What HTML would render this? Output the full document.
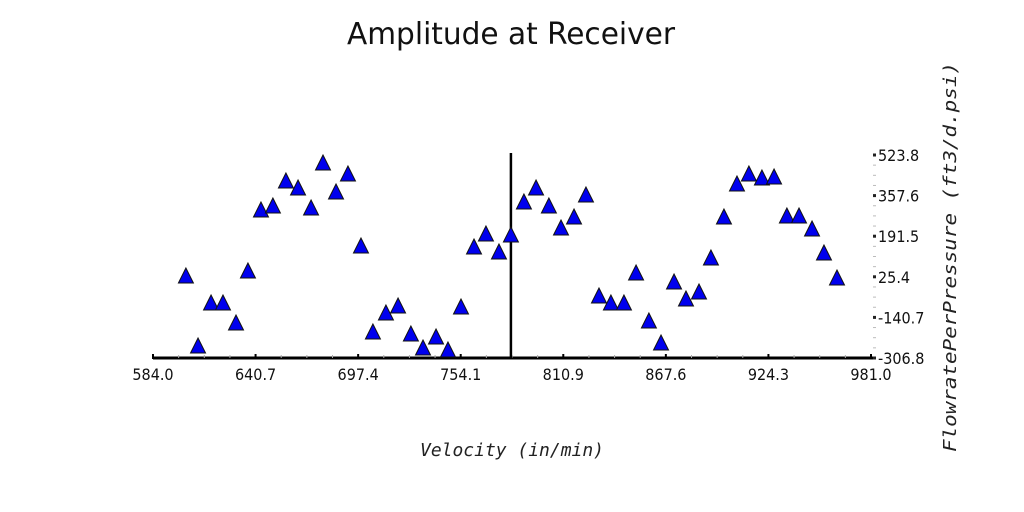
<!DOCTYPE html>
<html><head><meta charset="utf-8"><style>
html,body{margin:0;padding:0;background:#fff;}
svg{display:block;}
.tick{font-family:"DejaVu Sans Condensed","DejaVu Sans","Liberation Sans",sans-serif;font-stretch:condensed;font-size:16px;fill:#111;}
</style></head><body>
<svg id="chart" width="1024" height="512" xmlns="http://www.w3.org/2000/svg">
<text x="511" y="44" text-anchor="middle" textLength="328" lengthAdjust="spacingAndGlyphs" font-family="DejaVu Sans Condensed,DejaVu Sans Mono,sans-serif" font-stretch="condensed" font-size="30" fill="#111">Amplitude at Receiver</text>
<text x="512" y="456" text-anchor="middle" textLength="184" lengthAdjust="spacingAndGlyphs" font-family="DejaVu Sans Mono,Liberation Mono,monospace" font-style="italic" font-size="18" fill="#222">Velocity (in/min)</text>
<text transform="translate(956,257) rotate(-90)" text-anchor="middle" textLength="390" lengthAdjust="spacingAndGlyphs" font-family="DejaVu Sans Mono,Liberation Mono,monospace" font-style="italic" font-size="18" fill="#222">FlowratePerPressure  (ft3/d.psi)</text>
<g id="axes"></g>
<g id="marks"></g>
</svg>
<script>
const xVals=[602.2,608.9,616.1,622.7,629.9,636.5,643.7,650.3,657.5,664.2,671.4,678.0,685.2,691.8,699.0,705.6,712.8,719.5,726.6,733.3,740.5,747.1,754.3,761.5,768.1,775.3,781.9,789.1,795.8,802.9,809.6,816.8,823.4,830.6,837.2,844.4,851.1,858.2,864.9,872.1,878.7,885.9,892.5,899.7,906.9,913.5,920.7,927.4,934.5,941.2,948.4,955.0,962.2];
const yVals=[32.8,-253.6,-77.7,-77.7,-159.5,53.3,302.9,319.2,421.5,392.9,311.0,495.2,376.5,450.1,155.6,-196.3,-118.6,-89.9,-204.5,-261.8,-216.8,-270.0,-94.0,151.5,204.7,131.0,200.6,335.6,392.9,319.2,229.2,274.2,364.2,-49.0,-77.7,-77.7,45.1,-151.3,-241.3,8.3,-61.3,-32.7,106.5,274.2,409.2,450.1,433.8,437.9,278.3,278.3,225.1,126.9,24.6];
const xTickLabels=["584.0","640.7","697.4","754.1","810.9","867.6","924.3","981.0"];
const yTickLabels=["523.8","357.6","191.5","25.4","-140.7","-306.8"];
const xMin=584.0,xMax=981.0,yMin=-306.8,yMax=523.8,vLineX=781.9;
const L=153,R=871,T=155,B=358;
const sx=v=>L+(v-xMin)/(xMax-xMin)*(R-L);
const sy=v=>B-(v-yMin)/(yMax-yMin)*(B-T);
const NS="http://www.w3.org/2000/svg";
const axes=document.getElementById('axes'),marks=document.getElementById('marks');
function mk(tag,attrs,parent){const e=document.createElementNS(NS,tag);for(const k in attrs)e.setAttribute(k,attrs[k]);parent.appendChild(e);return e;}
let ax=mk('line',{x1:L,y1:B,x2:R+2,y2:B,stroke:'#000','stroke-width':3},axes);


const nX=xTickLabels.length;
for(let i=0;i<nX;i++){
  const v=xMin+i*(xMax-xMin)/(nX-1),x=sx(v);
  mk('line',{x1:x,y1:B-4,x2:x,y2:B+1,stroke:'#000','stroke-width':2},axes);
  if(i<nX-1){for(let k=1;k<4;k++){const xm=sx(v+k*(xMax-xMin)/(nX-1)/4);mk('line',{x1:xm,y1:B-3,x2:xm,y2:B,stroke:'#aaa','stroke-width':1},axes);}}
  const t=mk('text',{x:x,y:B+22,'text-anchor':'middle',class:'tick'},axes);t.textContent=xTickLabels[i];
  
  
}
const nY=yTickLabels.length;
for(let i=0;i<nY;i++){
  const v=yMax-i*(yMax-yMin)/(nY-1),y=sy(v);
  mk('rect',{x:R+2,y:y-1.5,width:3,height:3,fill:'#222'},axes);
  if(i<nY-1){for(let k=1;k<4;k++){const ym=sy(v-k*(yMax-yMin)/(nY-1)/4);mk('line',{x1:R+2,y1:ym,x2:R+5,y2:ym,stroke:'#bbb','stroke-width':1},axes);}}
  const t=mk('text',{x:R+7,y:y+6,class:'tick'},axes);t.textContent=yTickLabels[i];
  
  
}
const vl=mk('line',{x1:sx(vLineX),y1:T-2,x2:sx(vLineX),y2:B,stroke:'#000','stroke-width':2.5},axes);


for(let i=0;i<xVals.length;i++){
  const x=sx(xVals[i]),y=sy(yVals[i])+1;
  const p=mk('polygon',{points:`${x},${y-8} ${x-7.5},${y+7} ${x+7.5},${y+7}`,fill:'#0000ee',stroke:'#111','stroke-width':1},marks);
  
  
}
</script>
</body></html>
